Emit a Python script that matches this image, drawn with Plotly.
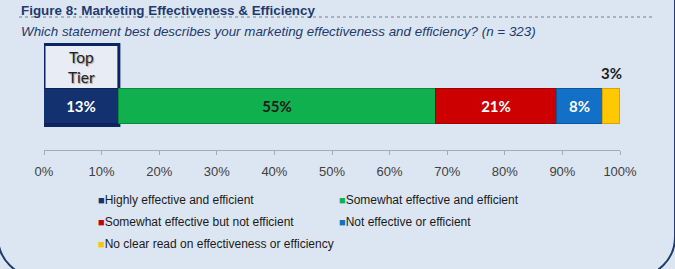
import plotly.graph_objects as go

# ---- data ----
categories = ["Highly effective and efficient",
              "Somewhat effective and efficient",
              "Somewhat effective but not efficient",
              "Not effective or efficient",
              "No clear read on effectiveness or efficiency"]
values = [13, 55, 21, 8, 3]
colors = ["#13306f", "#10b04e", "#cc0000", "#1270c6", "#ffc800"]
edge_colors = ["#0c2258", "#0a8a3c", "#a00000", "#0b5598", "#d9a400"]
label_colors = ["#ffffff", "#1a1a1a", "#ffffff", "#ffffff", "#1a1a1a"]
tick_vals = list(range(0, 101, 10))
tick_text = [f"{v}%" for v in tick_vals]
legend_cols = ["legend", "legend2", "legend", "legend2", "legend"]

title = "Figure 8: Marketing Effectiveness &amp; Efficiency"
subtitle = "Which statement best describes your marketing effectiveness and efficiency? (n = 323)"
top_tier = "Top<br>Tier"

# ---- geometry ----
W, H = 675, 269
ML, MR, MT, MB = 44, 55, 40, 119
PW, PH = W - ML - MR, H - MT - MB
BG = "#dce6f2"
NAVY = "#1f3a6e"


def xp(px):
    return (px - ML) / PW


def yp(py):
    return (H - MB - py) / PH


fig = go.Figure()

for i, (cat, v) in enumerate(zip(categories, values)):
    last = i == len(values) - 1
    fig.add_trace(go.Bar(
        x=[v], y=[0], orientation="h", width=0.636,
        marker=dict(color=colors[i], line=dict(width=1, color=edge_colors[i])),
        text=[] if last else [f"{v}%"],
        texttemplate=None if last else "%{text}",
        textposition="none" if last else "inside",
        insidetextanchor="middle",
        textangle=0,
        constraintext="none",
        textfont=dict(family="Lato", size=15, color=label_colors[i], weight=700),
        showlegend=False, name=cat, hoverinfo="skip",
    ))

# legend entries (small square glyph directly in front of the text)
for i, cat in enumerate(categories):
    fig.add_trace(go.Scatter(
        x=[None], y=[None], mode="markers",
        marker=dict(color="rgba(0,0,0,0)", size=1, line=dict(width=0)),
        name=f"<span style='color:{colors[i]};font-size:11px'>\u25A0</span>{cat}",
        legend=legend_cols[i], legendgroup=f"g{i}", showlegend=True,
    ))

# small value above the last (thin) segment
fig.add_annotation(
    x=sum(values[:-1]) + values[-1] / 2, y=0.318, xref="x", yref="y",
    text=f"{values[-1]}%", showarrow=False, yanchor="bottom", yshift=5,
    font=dict(family="Lato", size=15, color="#1a1a1a", weight=700),
)

# Top Tier box around first segment
fig.add_shape(type="rect", xref="x", yref="y", x0=0, x1=values[0],
              y0=-0.346, y1=1.127, line=dict(color="#0c2461", width=3),
              fillcolor="#e8edf5", layer="below")
fig.add_annotation(x=values[0] / 2, y=yp(67), xref="x", yref="paper",
                   text=top_tier, showarrow=False, yanchor="middle",
                   font=dict(family="Lato", size=15.5, color="#222222",
                             shadow="1px 1px 1px #9a9a9a"))

# header
fig.add_annotation(x=xp(19), y=yp(10), xref="paper", yref="paper", text=f"<b>{title}</b>",
                   showarrow=False, xanchor="left", yanchor="middle",
                   font=dict(family="Liberation Sans", size=13.4, color=NAVY))
fig.add_shape(type="line", xref="paper", yref="paper", x0=xp(19), x1=xp(655),
              y0=yp(17), y1=yp(17), line=dict(color="#7f7f7f", width=1, dash="dot"))
fig.add_annotation(x=xp(19), y=yp(31), xref="paper", yref="paper", text=f"<i>{subtitle}</i>",
                   showarrow=False, xanchor="left", yanchor="middle",
                   font=dict(family="Liberation Sans", size=13.4, color=NAVY))

# rounded panel border at bottom
k = 0.5523 * 40
path = (f"M {xp(-2)},{yp(0)} L {xp(-2)},{yp(237)} "
        f"C {xp(-2)},{yp(237 + k)} {xp(38 - k)},{yp(277)} {xp(38)},{yp(277)} "
        f"L {xp(635)},{yp(277)} "
        f"C {xp(635 + k)},{yp(277)} {xp(675)},{yp(237 + k)} {xp(675)},{yp(237)} "
        f"L {xp(675)},{yp(0)}")
fig.add_shape(type="path", xref="paper", yref="paper", path=path,
              line=dict(color=NAVY, width=2))

legend_common = dict(
    orientation="v", xref="container", yref="container", xanchor="left", yanchor="top",
    bgcolor="rgba(0,0,0,0)", borderwidth=0, itemwidth=30, tracegroupgap=3,
    font=dict(family="Liberation Sans", size=12, color="#1a1a1a"),
    itemclick=False, itemdoubleclick=False,
)

fig.update_layout(
    width=W, height=H,
    margin=dict(l=ML, r=MR, t=MT, b=MB, autoexpand=False),
    paper_bgcolor=BG, plot_bgcolor=BG,
    barmode="stack", bargap=0,
    showlegend=True,
    legend=dict(x=58 / W, y=1 - 185 / H, **legend_common),
    legend2=dict(x=299 / W, y=1 - 185 / H, **legend_common),
    xaxis=dict(range=[0, 100], tickvals=tick_vals, ticktext=tick_text,
               showgrid=False, zeroline=False, showline=True, linecolor="#a3acb6",
               linewidth=1, ticks="outside", ticklen=4, tickcolor="#a3acb6",
               ticklabelstandoff=5, fixedrange=True,
               tickfont=dict(family="Liberation Sans", size=13, color="#404040")),
    yaxis=dict(range=[-0.791, 1.209], visible=False, fixedrange=True),
)

fig.write_html("out.html")
